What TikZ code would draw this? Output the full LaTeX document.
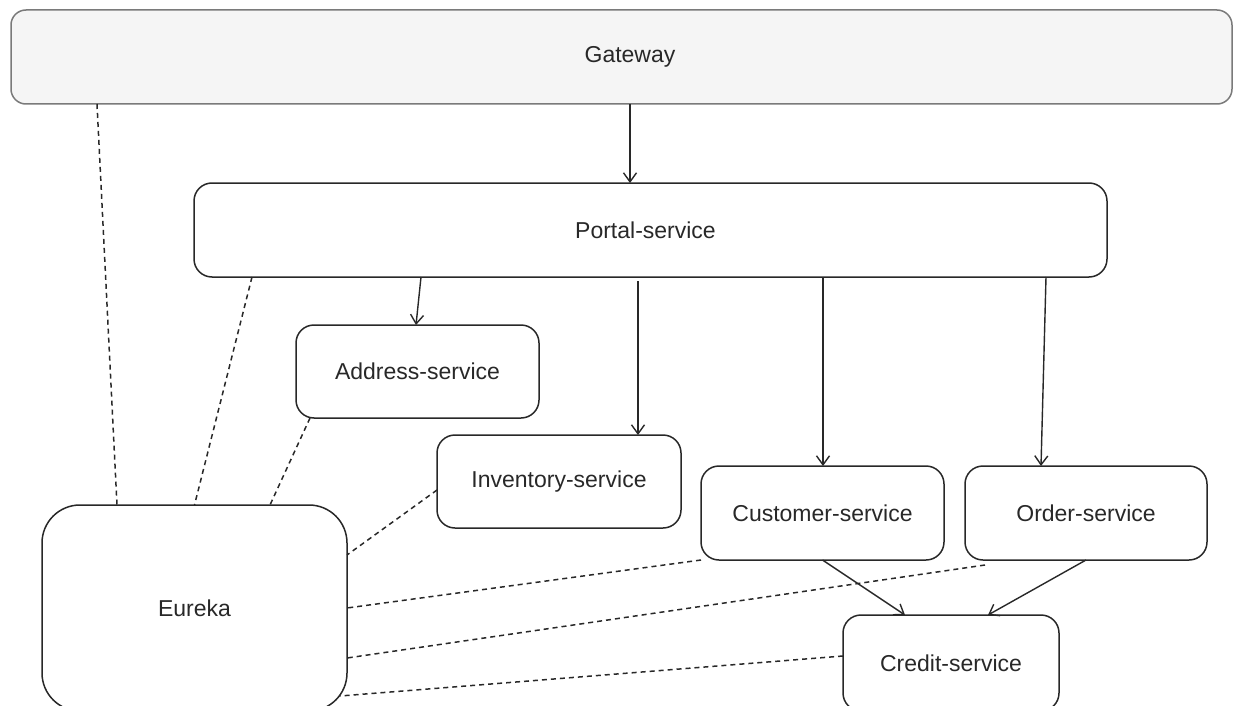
\documentclass[tikz,border=0pt]{standalone}
\usepackage{fontspec}
\setmainfont{Liberation Sans}
\usepackage{tikz,xcolor}
\usetikzlibrary{arrows.meta}
\definecolor{boxline}{HTML}{282828}
\definecolor{gwfill}{HTML}{F5F5F5}
\definecolor{gwline}{HTML}{7A7A7A}
\tikzstyle{svc} = [draw=boxline, line width=1.5pt, rounded corners=18pt, text=boxline, inner sep=0pt, outer sep=0pt, font=\fontsize{23}{27}\selectfont]
\tikzstyle{gw} = [svc, draw=gwline, fill=gwfill, rounded corners=15pt]
\tikzstyle{call} = [draw=boxline, line width=1.4pt, -{Straight Barb[length=9pt,width=13pt,line width=1.4pt]}]
\tikzstyle{reg} = [draw=boxline, line width=1.5pt, dash pattern=on 5pt off 4pt]

\begin{document}
\begin{tikzpicture}[x=1pt, y=-1pt]
\useasboundingbox (0,0) rectangle (1244,706);
% boxes
\node[gw, minimum width=1221pt, minimum height=94pt] (gateway) at (621.5,57) {\hspace*{17pt}Gateway};
\node[svc, minimum width=913pt, minimum height=94pt] (portal) at (650.5,230) {Portal-service\hspace*{10pt}};
\node[svc, minimum width=243pt, minimum height=93pt] (address) at (417.5,371.5) {Address-service};
\node[svc, minimum width=244pt, minimum height=93pt] (inventory) at (559,481.5) {Inventory-service};
\node[svc, minimum width=243pt, minimum height=94pt] (customer) at (822.5,513) {Customer-service};
\node[svc, minimum width=242pt, minimum height=94pt] (order) at (1086,513) {Order-service};
\node[svc, rounded corners=38pt, minimum width=305pt, minimum height=206pt] (eureka) at (194.5,608) {Eureka};
\node[svc, minimum width=216pt, minimum height=96pt] (credit) at (951,663) {Credit-service};

% calls
\draw[call] ([xshift=8.5pt]gateway.south) -- ([xshift=8.5pt]portal.north -| gateway.south);
\draw[call] ([xshift=-229.5pt]portal.south) -- ([xshift=-1.5pt]address.north);
\draw[call] ([xshift=-12.5pt,yshift=-4pt]portal.south) -- ([xshift=79pt]inventory.north);
\draw[call] ([xshift=172.5pt]portal.south) -- ([xshift=0.5pt]customer.north);
\draw[call] ([xshift=395.5pt]portal.south) -- ([xshift=-45pt]order.north);
\draw[call] (customer.south) -- ([xshift=-46pt]credit.north);
\draw[call] (order.south) -- ([xshift=37pt]credit.north);

% registration with eureka
\draw[reg] ([xshift=86pt]gateway.south west) -- ([xshift=75pt]eureka.north west);
\draw[reg] ([xshift=58pt]portal.south west) -- (eureka.north);
\draw[reg] ([xshift=14pt]address.south west) -- ([xshift=-77pt]eureka.north east);
\draw[reg] ([yshift=-8.5pt]inventory.west) -- ([yshift=53pt]eureka.east);
\draw[reg] (customer.south west) -- (eureka.east);
\draw[reg] ([xshift=20pt,yshift=-5pt]order.south west) -- ([yshift=-50pt]eureka.east);
\draw[reg] ([yshift=7pt]credit.west) -- ([xshift=-7pt,yshift=-88pt]eureka.east);
\end{tikzpicture}
\end{document}
